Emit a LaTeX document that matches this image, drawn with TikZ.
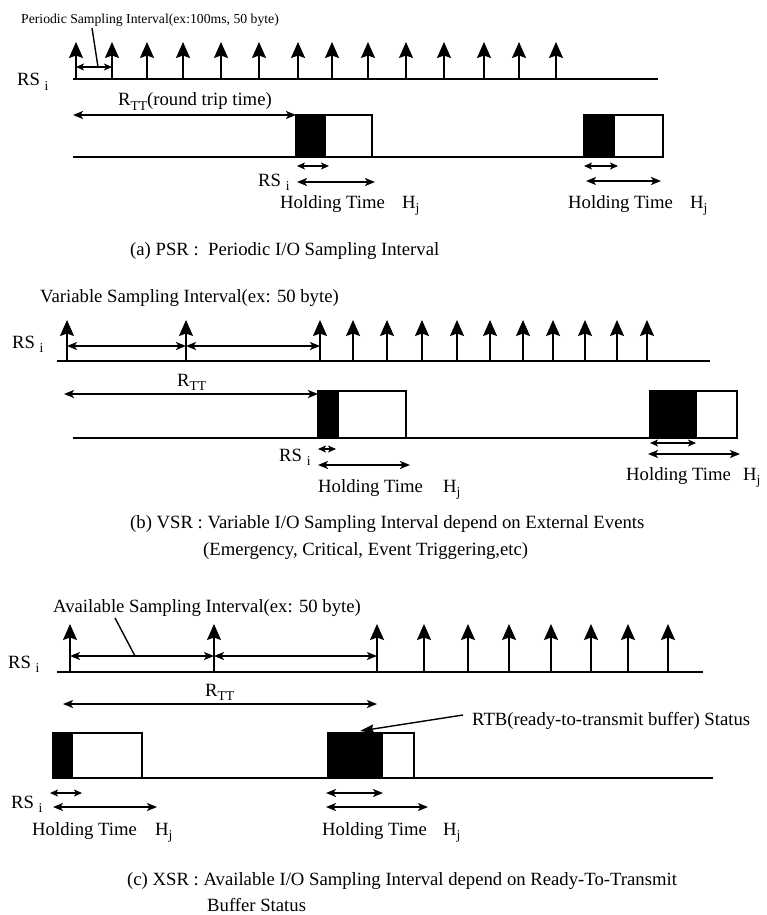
\documentclass[tikz,border=0pt]{standalone}
\usepackage{fontspec}
\setmainfont{Liberation Serif}
\usetikzlibrary{arrows.meta}
\newcommand\lowsub[1]{\raisebox{-4.5pt}{\fontsize{13.5}{13.5}\selectfont #1}}
\begin{document}
\begin{tikzpicture}[x=1pt,y=-1pt,
  font=\fontsize{18.7}{22}\selectfont,
  tl/.style={line width=1.6pt},
  uparr/.style={line width=1.6pt,-{Stealth[length=16pt,width=14pt,inset=2.5pt]}},
  dbl/.style={line width=1.6pt,{Stealth[length=10pt,width=8pt,inset=2.5pt]}-{Stealth[length=10pt,width=8pt,inset=2.5pt]}},
  sdbl/.style={line width=1.4pt,{Stealth[length=8pt,width=7pt,inset=2pt]}-{Stealth[length=8pt,width=7pt,inset=2pt]}},
  lbl/.style={anchor=base west,inner sep=0pt},
  blk/.style={fill=black,draw=black,line width=1.6pt},
  wbox/.style={draw=black,fill=white,line width=1.6pt},
  ptr/.style={line width=1.4pt}]
\useasboundingbox (0,0) rectangle (766,915);

% ================= (a) =================
\node[lbl,font=\fontsize{13.7}{16}\selectfont] (ta) at (21,24) {Periodic Sampling Interval(ex:100ms, 50 byte)};
\coordinate (pa1) at (92,28);
\coordinate (pa2) at (98,67);
\draw[ptr] (pa1) -- (pa2);
\coordinate (ta0) at (73,79);
\coordinate (ta1) at (658,79);
\draw[tl] (ta0) -- (ta1);
\foreach \x in {76,112,147,183,221,259,298,332,368,406,444,484,519,556}
  \draw[uparr] (\x,79) -- (\x,42);
\coordinate (sa0) at (76,67);
\coordinate (sa1) at (112,67);
\draw[sdbl] (sa0) -- (sa1);
\node[lbl] (rsa) at (17,86) {RS \lowsub{i}};
% RTT
\coordinate (ra0) at (73,115);
\coordinate (ra1) at (296,115);
\draw[dbl] (ra0) -- (ra1);
\node[lbl] (rtta) at (118,106) {R\lowsub{TT}(round trip time)};
% lower line and boxes
\coordinate (la0) at (73,157);
\coordinate (la1) at (584,157);
\draw[tl] (la0) -- (la1);
\draw[blk] (296,115) rectangle (325,157);
\draw[wbox] (325,115) rectangle (372,157);
\draw[blk] (584,115) rectangle (614,157);
\draw[wbox] (614,115) rectangle (663,157);
% under box a1
\draw[sdbl] (297,166) -- (329,166);
\draw[dbl] (297,182) -- (375,182);
\node[lbl] (rsa2) at (258,186) {RS \lowsub{i}};
\node[lbl] (hta1) at (280,208) {Holding Time};
\node[lbl] (hja1) at (402,208) {H\lowsub{j}};
% under box a2
\draw[sdbl] (584,166) -- (618,166);
\draw[dbl] (586,181) -- (661,181);
\node[lbl] (hta2) at (568,208) {Holding Time};
\node[lbl] (hja2) at (690,208) {H\lowsub{j}};
\node[lbl] (capa) at (130,255) {(a) PSR :\ \ Periodic I/O Sampling Interval};

% ================= (b) =================
\node[lbl] (tb) at (40,302) {Variable Sampling Interval(ex: 50 byte)};
\coordinate (tb0) at (57,361);
\coordinate (tb1) at (710,361);
\draw[tl] (tb0) -- (tb1);
\foreach \x in {67,186,320,353,387,422,457,490,523,553,585,617,647}
  \draw[uparr] (\x,361) -- (\x,320);
\draw[dbl] (67,346) -- (186,346);
\draw[dbl] (186,346) -- (320,346);
\node[lbl] (rsb) at (12,348) {RS \lowsub{i}};
\node[lbl] (rttb) at (177,386) {R\lowsub{TT}};
\draw[dbl] (64,394) -- (318,394);
\coordinate (lb0) at (73,438);
\coordinate (lb1) at (650,438);
\draw[tl] (lb0) -- (lb1);
\draw[blk] (318,391) rectangle (338,438);
\draw[wbox] (338,391) rectangle (406,438);
\draw[blk] (650,391) rectangle (696,438);
\draw[wbox] (696,391) rectangle (737,438);
% under b1
\draw[sdbl] (318,449) -- (336,449);
\draw[dbl] (318,465) -- (410,465);
\node[lbl] (rsb2) at (279,461) {RS \lowsub{i}};
\node[lbl] (htb1) at (318,492) {Holding Time};
\node[lbl] (hjb1) at (443,492) {H\lowsub{j}};
% under b2
\draw[sdbl] (650,443) -- (696,443);
\draw[dbl] (648,454) -- (740,454);
\node[lbl] (htb2) at (626,480) {Holding Time};
\node[lbl] (hjb2) at (743,480) {H\lowsub{j}};
\node[lbl] (capb1) at (130,528) {(b) VSR : Variable I/O Sampling Interval depend on External Events};
\node[lbl] (capb2) at (203,555) {(Emergency, Critical, Event Triggering,etc)};

% ================= (c) =================
\node[lbl] (tc) at (53,612) {Available Sampling Interval(ex: 50 byte)};
\coordinate (pc1) at (115,618);
\coordinate (pc2) at (135,656);
\draw[ptr] (pc1) -- (pc2);
\coordinate (tc0) at (57,672);
\coordinate (tc1) at (703,672);
\draw[tl] (tc0) -- (tc1);
\foreach \x in {70,214,377,424,468,509,551,591,628,668}
  \draw[uparr] (\x,672) -- (\x,624);
\draw[dbl] (70,656) -- (214,656);
\draw[dbl] (214,656) -- (377,656);
\node[lbl] (rsc) at (8,668) {RS \lowsub{i}};
\node[lbl] (rttc) at (205,696) {R\lowsub{TT}};
\draw[dbl] (63,704) -- (377,704);
\coordinate (lc0) at (53,778);
\coordinate (lc1) at (713,778);
\draw[tl] (lc0) -- (lc1);
\draw[blk] (53,733) rectangle (72,778);
\draw[wbox] (72,733) rectangle (142,778);
\draw[blk] (328,733) rectangle (382,778);
\draw[wbox] (382,733) rectangle (414,778);
% RTB pointer
\node[lbl] (rtb) at (472,725) {RTB(ready-to-transmit buffer) Status};
\coordinate (rtbp) at (463,715);
\coordinate (rtbt) at (360,731);
\draw[line width=1.4pt,-{Stealth[length=14pt,width=9pt,inset=2pt]}] (rtbp) -- (rtbt);
% under c1
\draw[sdbl] (50,793) -- (82,793);
\draw[dbl] (53,807) -- (157,807);
\node[lbl] (rsc2) at (11,808) {RS \lowsub{i}};
\node[lbl] (htc1) at (32,835) {Holding Time};
\node[lbl] (hjc1) at (155,835) {H\lowsub{j}};
% under c2
\draw[dbl] (326,793) -- (383,793);
\draw[dbl] (326,807) -- (428,807);
\node[lbl] (htc2) at (322,835) {Holding Time};
\node[lbl] (hjc2) at (443,835) {H\lowsub{j}};
\node[lbl] (capc1) at (127,885) {(c) XSR : Available I/O Sampling Interval depend on Ready-To-Transmit};
\node[lbl] (capc2) at (207,911) {Buffer Status};
\end{tikzpicture}
\end{document}
